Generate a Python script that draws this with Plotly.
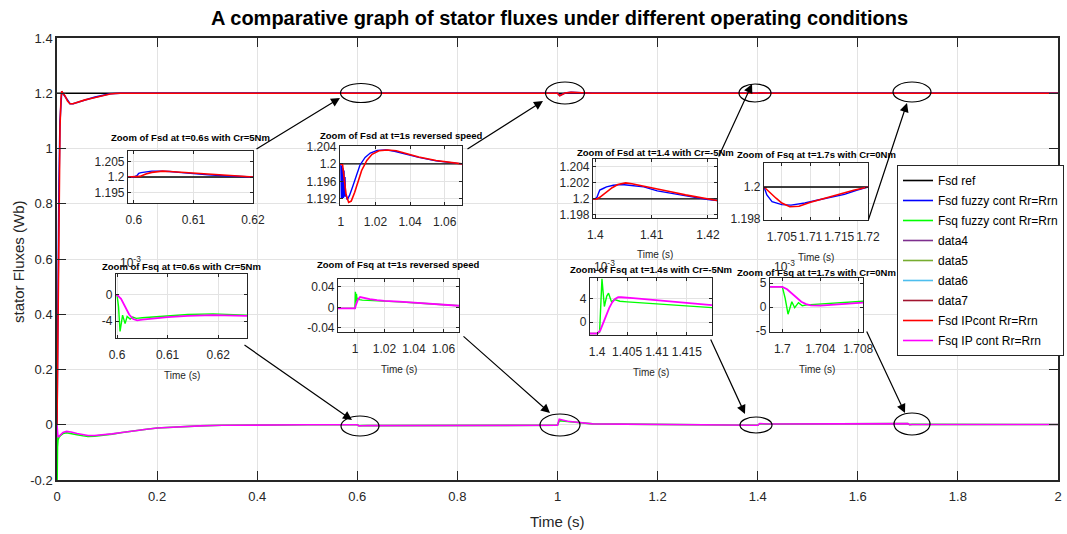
import plotly.graph_objects as go

W, H = 1067, 534
FONT = "Liberation Sans, Arial, sans-serif"
TXT = "#262626"

# ---------------- main plot data ----------------
t_ref = [0, 2]
fsd_ref = [1.2, 1.2]

t_fsd_main = [0, 0.002, 0.004, 0.006, 0.008, 0.0094, 0.012, 0.016, 0.021, 0.026, 0.032, 0.04, 0.046,
              0.056, 0.066, 0.076, 0.086, 0.096, 0.106, 0.116, 0.126, 0.16, 0.6, 0.605, 0.62, 1.0, 1.0045,
              1.015, 1.027, 1.07, 1.4, 1.405, 1.42, 1.7, 1.706, 1.72, 2.0]
fsd_ip_main = [0, 0.45, 0.85, 1.08, 1.18, 1.207, 1.2, 1.19, 1.172, 1.162, 1.162, 1.167, 1.171,
               1.176, 1.180, 1.185, 1.189, 1.193, 1.1975, 1.199, 1.2, 1.2, 1.2, 1.2019, 1.2, 1.2, 1.1912,
               1.2008, 1.2032, 1.2, 1.2, 1.202, 1.2, 1.2, 1.1988, 1.2, 1.2]
fsd_fz_main = [0, 0.5, 0.88, 1.1, 1.19, 1.206, 1.199, 1.188, 1.171, 1.162, 1.162, 1.167, 1.171,
               1.176, 1.181, 1.186, 1.19, 1.194, 1.198, 1.199, 1.2, 1.2, 1.2, 1.2018, 1.2, 1.2, 1.1918,
               1.2012, 1.2032, 1.2, 1.2, 1.2019, 1.2, 1.2, 1.1989, 1.2, 1.2]

t_fsq_main = [0, 0.0003, 0.0006, 0.001, 0.002, 0.004, 0.008, 0.012, 0.019, 0.028, 0.04, 0.052, 0.062,
              0.075, 0.09, 0.11, 0.13, 0.152, 0.175, 0.2, 0.24, 0.285, 0.33, 0.4, 0.5, 0.6, 0.6032,
              0.61, 0.62, 1.0, 1.0035, 1.02, 1.07, 1.4, 1.404, 1.42, 1.7, 1.7034, 1.7085, 2.0]
fsq_ip_main = [0, -0.012, -0.024, -0.036, -0.045, -0.042, -0.034, -0.028, -0.024, -0.026, -0.032, -0.037, -0.039,
               -0.039, -0.037, -0.033, -0.028, -0.022, -0.017, -0.012, -0.008, -0.004, -0.002, -0.0005, 0, 0, -0.0039,
               -0.0035, -0.0032, -0.002, 0.02, 0.0125, 0.003, -0.002, 0.0042, 0.0027, 0.0042, 0.0003, 0.0009, 0.001]
fsq_fz_main = [0, -0.2, -0.12, -0.08, -0.055, -0.045, -0.037, -0.032, -0.029, -0.031, -0.036, -0.04, -0.042,
               -0.041, -0.039, -0.034, -0.028, -0.022, -0.017, -0.012, -0.008, -0.004, -0.002, -0.0005, 0, 0, -0.0036,
               -0.0033, -0.003, -0.002, 0.015, 0.012, 0.003, -0.002, 0.0036, 0.0024, 0.0042, 0.0005, 0.0012, 0.001]

# ---------------- inset data ----------------
# inset 1 : Fsd around t = 0.6 s
i1_t_ip = [0.599, 0.6, 0.6007, 0.601, 0.6015, 0.602, 0.603, 0.604, 0.6048, 0.606, 0.608, 0.61, 0.6125, 0.615, 0.6175, 0.62]
i1_ip = [1.2, 1.2, 1.2, 1.2002, 1.2006, 1.201, 1.2015, 1.2018, 1.2019, 1.2018, 1.2015, 1.2012, 1.2009, 1.2006, 1.2003, 1.2]
i1_t_fz = [0.599, 0.6, 0.6005, 0.6008, 0.6012, 0.602, 0.603, 0.6045, 0.606, 0.608, 0.61, 0.6125, 0.615, 0.6175, 0.62]
i1_fz = [1.2, 1.2, 1.2004, 1.2012, 1.2014, 1.2016, 1.2019, 1.2019, 1.2018, 1.2014, 1.201, 1.2007, 1.2004, 1.2002, 1.2]

# inset 2 : Fsd around t = 1 s
i2_t_ip = [0.9995, 1.0, 1.001, 1.002, 1.003, 1.0045, 1.006, 1.008, 1.01, 1.012, 1.015, 1.018, 1.022, 1.027,
           1.032, 1.038, 1.045, 1.055, 1.07]
i2_ip = [1.2, 1.2, 1.1998, 1.196, 1.193, 1.1912, 1.1915, 1.1935, 1.1962, 1.1985, 1.2008, 1.2022, 1.203, 1.2032,
         1.203, 1.2024, 1.2016, 1.2008, 1.2]
i2_t_fz = [0.9995, 1.0, 1.0003, 1.0006, 1.0009, 1.0012, 1.0015, 1.0018, 1.0021, 1.0024, 1.0027, 1.003, 1.0037,
           1.005, 1.007, 1.009, 1.011, 1.014, 1.017, 1.021, 1.026, 1.031, 1.037, 1.045, 1.055, 1.07]
i2_fz = [1.2, 1.2, 1.192, 1.1995, 1.1922, 1.199, 1.1922, 1.1985, 1.1925, 1.197, 1.1925, 1.193, 1.1918,
         1.1928, 1.195, 1.1975, 1.1997, 1.2015, 1.2025, 1.2031, 1.2032, 1.2029, 1.2023, 1.2015, 1.2007, 1.2]

# inset 3 : Fsd around t = 1.4 s
i3_t_ip = [1.3996, 1.4, 1.4003, 1.4008, 1.4015, 1.402, 1.403, 1.404, 1.4054, 1.4065, 1.408, 1.41, 1.4134, 1.416, 1.42, 1.4216]
i3_ip = [1.2, 1.2, 1.2, 1.2002, 1.2006, 1.2009, 1.2014, 1.2018, 1.202, 1.2019, 1.2017, 1.2014, 1.2009, 1.2005, 1.2, 1.1998]
i3_t_fz = [1.3996, 1.4, 1.4003, 1.4008, 1.4014, 1.402, 1.4032, 1.4047, 1.406, 1.4086, 1.411, 1.4134, 1.4175, 1.42, 1.4216]
i3_fz = [1.2, 1.2, 1.2002, 1.2011, 1.2013, 1.2015, 1.2017, 1.2018, 1.2017, 1.2015, 1.201, 1.2007, 1.2002, 1.1999, 1.1998]

# inset 4 : Fsd around t = 1.7 s
i4_t_ip = [1.7019, 1.703, 1.704, 1.705, 1.7064, 1.708, 1.71, 1.7125, 1.715, 1.7175, 1.72]
i4_ip = [1.2, 1.1996, 1.1993, 1.199, 1.19877, 1.1988, 1.19905, 1.1993, 1.19955, 1.1998, 1.2]
i4_t_fz = [1.7019, 1.7021, 1.7024, 1.7033, 1.705, 1.7066, 1.709, 1.7113, 1.7136, 1.7159, 1.718, 1.72]
i4_fz = [1.2, 1.1998, 1.1995, 1.19908, 1.1989, 1.19887, 1.199, 1.19919, 1.19937, 1.19954, 1.1998, 1.2]

# inset 5 : Fsq around t = 0.6 s (x 1e-3)
i5_t_ip = [0.5998, 0.6, 0.6008, 0.6016, 0.6024, 0.6032, 0.604, 0.605, 0.607, 0.61, 0.614, 0.619, 0.6257]
i5_ip = [0, 0, -0.6, -1.8, -3.0, -3.7, -3.9, -3.8, -3.6, -3.4, -3.2, -3.1, -3.2]
i5_t_fz = [0.5998, 0.6, 0.6003, 0.6006, 0.6011, 0.6016, 0.602, 0.6026, 0.6031, 0.6038, 0.605, 0.607, 0.61, 0.614, 0.619, 0.6257]
i5_fz = [0, 0, -1.8, -5.6, -3.1, -4.4, -3.3, -3.7, -3.4, -3.6, -3.5, -3.4, -3.2, -3.0, -2.9, -3.1]

# inset 6 : Fsq around t = 1 s
i6_t_ip = [0.9885, 1.0, 1.0005, 1.002, 1.0035, 1.006, 1.01, 1.015, 1.02, 1.03, 1.04, 1.05, 1.06, 1.0705]
i6_ip = [-0.002, -0.002, 0.003, 0.015, 0.02, 0.018, 0.016, 0.014, 0.0125, 0.011, 0.009, 0.007, 0.005, 0.003]
i6_t_fz = [0.9885, 1.0, 1.0003, 1.0006, 1.001, 1.0015, 1.002, 1.003, 1.005, 1.01, 1.015, 1.02, 1.03, 1.04, 1.05, 1.06, 1.0705]
i6_fz = [-0.002, -0.002, 0.03, 0.01, 0.026, 0.012, 0.017, 0.015, 0.014, 0.013, 0.0125, 0.012, 0.0105, 0.0088, 0.0069, 0.005, 0.003]

# inset 7 : Fsq around t = 1.4 s (x 1e-3)
i7_t_ip = [1.3988, 1.4, 1.4005, 1.401, 1.4015, 1.402, 1.4025, 1.403, 1.4035, 1.404, 1.406, 1.4077, 1.41, 1.4125, 1.4149, 1.4192]
i7_ip = [-2, -2, -1.5, -0.2, 1.2, 2.4, 3.4, 4.0, 4.3, 4.3, 4.15, 4.0, 3.75, 3.45, 3.25, 2.95]
i7_t_fz = [1.3988, 1.4, 1.4004, 1.4008, 1.4012, 1.4016, 1.4019, 1.4024, 1.4029, 1.4034, 1.4038, 1.405, 1.4077, 1.41, 1.4125, 1.4149, 1.4192]
i7_fz = [-2, -2, -1.8, 7.5, 2.7, 4.5, 5.0, 3.5, 3.9, 3.7, 3.6, 3.5, 3.3, 3.1, 2.9, 2.7, 2.5]

# inset 8 : Fsq around t = 1.7 s (x 1e-3)
i8_t_ip = [1.6987, 1.7, 1.7005, 1.701, 1.7015, 1.702, 1.7025, 1.703, 1.704, 1.705, 1.7065, 1.7085]
i8_ip = [4.2, 4.2, 3.7, 2.8, 1.9, 1.1, 0.6, 0.35, 0.3, 0.45, 0.65, 0.9]
i8_t_fz = [1.6987, 1.7, 1.7003, 1.7006, 1.701, 1.7013, 1.7017, 1.7021, 1.7026, 1.704, 1.706, 1.7085]
i8_fz = [4.2, 4.2, 1.8, -1.5, 1.1, -0.15, 0.9, 0.27, 0.45, 0.6, 0.85, 1.2]

# ---------------- helpers ----------------
def px_x(p):
    return p / W

def px_y(p):
    return 1 - p / H

fig = go.Figure()

C_REF, C_FZD, C_FZQ = "#000000", "#0000ff", "#00ff00"
C_IPD, C_IPQ = "#ff0000", "#ff00ff"
LW = 1.6

def main_trace(x, y, name, col):
    return go.Scatter(x=x, y=y, mode="lines", name=name, legendgroup=name, line=dict(color=col, width=LW))

fig.add_trace(main_trace(t_ref, fsd_ref, "Fsd ref", C_REF))
fig.add_trace(main_trace(t_fsd_main, fsd_fz_main, "Fsd fuzzy cont Rr=Rrn", C_FZD))
fig.add_trace(main_trace(t_fsq_main, fsq_fz_main, "Fsq fuzzy cont Rr=Rrn", C_FZQ))
for nm, col in [("data4", "#7e2f8e"), ("data5", "#77ac30"), ("data6", "#4dbeee"), ("data7", "#a2142f")]:
    fig.add_trace(main_trace([None], [None], nm, col))
fig.add_trace(main_trace(t_fsd_main, fsd_ip_main, "Fsd IPcont Rr=Rrn", C_IPD))
fig.add_trace(main_trace(t_fsq_main, fsq_ip_main, "Fsq IP cont Rr=Rrn", C_IPQ))

insets = [
    dict(box=(128, 253, 151, 203), xr=[0.599, 0.62], yr=[1.1916, 1.2084],
         xt=[0.6, 0.61, 0.62], yt=([1.195, 1.2, 1.205], ["1.195", "1.2", "1.205"]),
         kind="d", fz=(i1_t_fz, i1_fz), ip=(i1_t_ip, i1_ip),
         title="Zoom of Fsd at t=0.6s with Cr=5Nm", ty=138, xlab=False),
    dict(box=(340, 462, 146, 205), xr=[0.9995, 1.07], yr=[1.1906, 1.2041],
         xt=[1, 1.02, 1.04, 1.06], yt=([1.192, 1.196, 1.2, 1.204], ["1.192", "1.196", "1.2", "1.204"]),
         kind="d", fz=(i2_t_fz, i2_fz), ip=(i2_t_ip, i2_ip),
         title="Zoom of Fsd at t=1s reversed speed", ty=136, xlab=False),
    dict(box=(593, 717, 159, 218), xr=[1.3996, 1.4216], yr=[1.1976, 1.205],
         xt=[1.4, 1.41, 1.42], yt=([1.198, 1.2, 1.202, 1.204], ["1.198", "1.2", "1.202", "1.204"]),
         kind="d", fz=(i3_t_fz, i3_fz), ip=(i3_t_ip, i3_ip),
         title="Zoom of Fsd at t=1.4 with Cr=-5Nm", ty=152, xlab=True),
    dict(box=(764, 868, 163, 220), xr=[1.7019, 1.72], yr=[1.19794, 1.2015],
         xt=[1.705, 1.71, 1.715, 1.72], yt=([1.198, 1.2], ["1.198", "1.2"]),
         kind="d", fz=(i4_t_fz, i4_fz), ip=(i4_t_ip, i4_ip),
         title="Zoom of Fsq at t=1.7s with Cr=0Nm", ty=154, xlab=True),
    dict(box=(116, 247, 274, 338), xr=[0.5998, 0.6257], yr=[-6.6, 3.2],
         xt=[0.6, 0.61, 0.62], yt=([-4, 0], ["-4", "0"]),
         kind="q", fz=(i5_t_fz, i5_fz), ip=(i5_t_ip, i5_ip),
         title="Zoom of Fsq at t=0.6s with Cr=5Nm", ty=266, xlab=True, exp=True),
    dict(box=(338, 459, 279, 332), xr=[0.9885, 1.0705], yr=[-0.048, 0.055],
         xt=[1, 1.02, 1.04, 1.06], yt=([-0.04, 0, 0.04], ["-0.04", "0", "0.04"]),
         kind="q", fz=(i6_t_fz, i6_fz), ip=(i6_t_ip, i6_ip),
         title="Zoom of Fsq at t=1s reversed speed", ty=264, xlab=True),
    dict(box=(590, 712, 278, 335), xr=[1.3988, 1.4192], yr=[-2.26, 7.65],
         xt=[1.4, 1.405, 1.41, 1.415], yt=([0, 4], ["0", "4"]),
         kind="q", fz=(i7_t_fz, i7_fz), ip=(i7_t_ip, i7_ip),
         title="Zoom of Fsq at t=1.4s with Cr=-5Nm", ty=269, xlab=True, exp=True),
    dict(box=(770, 863, 278, 332), xr=[1.6987, 1.7085], yr=[-5.2, 6.04],
         xt=[1.7, 1.704, 1.708], yt=([-5, 0, 5], ["-5", "0", "5"]),
         kind="q", fz=(i8_t_fz, i8_fz), ip=(i8_t_ip, i8_ip),
         title="Zoom of Fsq at t=1.7s with Cr=0Nm", ty=272, xlab=True, exp=True),
]

annotations = []
layout_axes = {}
for k, s in enumerate(insets):
    n = k + 2
    xa, ya = f"x{n}", f"y{n}"
    l, r, tp, bt = s["box"]
    if s["kind"] == "d":
        fig.add_trace(go.Scatter(x=s["xr"], y=[1.2, 1.2], mode="lines", line=dict(color=C_REF, width=1.4),
                                 xaxis=xa, yaxis=ya, showlegend=False))
        fig.add_trace(go.Scatter(x=s["fz"][0], y=s["fz"][1], mode="lines", line=dict(color=C_FZD, width=1.4),
                                 xaxis=xa, yaxis=ya, showlegend=False))
        fig.add_trace(go.Scatter(x=s["ip"][0], y=s["ip"][1], mode="lines", line=dict(color=C_IPD, width=1.6),
                                 xaxis=xa, yaxis=ya, showlegend=False))
    else:
        fig.add_trace(go.Scatter(x=s["fz"][0], y=s["fz"][1], mode="lines", line=dict(color=C_FZQ, width=1.4),
                                 xaxis=xa, yaxis=ya, showlegend=False))
        fig.add_trace(go.Scatter(x=s["ip"][0], y=s["ip"][1], mode="lines", line=dict(color=C_IPQ, width=1.8),
                                 xaxis=xa, yaxis=ya, showlegend=False))
    common = dict(showline=True, mirror="ticks", linecolor="#262626", linewidth=1.2, ticks="inside",
                  ticklen=3, tickcolor="#262626", showgrid=True, gridcolor="#e3e3e3", zeroline=False,
                  tickfont=dict(family=FONT, size=12, color=TXT), tickangle=0, fixedrange=True,
                  automargin=False)
    layout_axes[f"xaxis{n}"] = dict(common, domain=[px_x(l), px_x(r)], range=s["xr"], anchor=ya,
                                   tickvals=s["xt"], ticktext=[f"{v:g}" for v in s["xt"]],
                                   ticklabelstandoff=5)
    layout_axes[f"yaxis{n}"] = dict(common, domain=[px_y(bt), px_y(tp)], range=s["yr"], anchor=xa,
                                   tickvals=s["yt"][0], ticktext=s["yt"][1])
    annotations.append(dict(text=f"<b>{s['title']}</b>", x=px_x((l + r) / 2), y=px_y(s["ty"]),
                            xref="paper", yref="paper", showarrow=False, xanchor="center", yanchor="middle",
                            font=dict(family=FONT, size=9.5, color="#000000")))
    if s["xlab"]:
        annotations.append(dict(text="Time (s)", x=px_x((l + r) / 2), y=px_y(bt + 37), xref="paper",
                                yref="paper", showarrow=False, xanchor="center", yanchor="middle",
                                font=dict(family=FONT, size=10, color=TXT)))
    if s.get("exp"):
        annotations.append(dict(text="10<sup>-3</sup>", x=px_x(l + 2), y=px_y(tp - 12), xref="paper",
                                yref="paper", showarrow=False, xanchor="left", yanchor="middle",
                                font=dict(family=FONT, size=12, color=TXT)))

annotations.append(dict(text="<b>A comparative graph of stator fluxes under different operating conditions</b>",
                        x=px_x(559), y=px_y(18), xref="paper", yref="paper", showarrow=False,
                        xanchor="center", yanchor="middle", font=dict(family=FONT, size=20, color="#000000")))
annotations.append(dict(text="Time (s)", x=px_x(557), y=px_y(521), xref="paper", yref="paper", showarrow=False,
                        xanchor="center", yanchor="middle", font=dict(family=FONT, size=15, color=TXT)))
annotations.append(dict(text="stator Fluxes (Wb)", x=px_x(18), y=px_y(262), xref="paper", yref="paper",
                        showarrow=False, textangle=-90, xanchor="center", yanchor="middle",
                        font=dict(family=FONT, size=15, color=TXT)))

arrows = [(255, 150, 340, 98), (466, 150, 543, 101), (718, 158, 752, 84), (868, 221, 907, 103),
          (243, 344, 352, 420), (462, 335, 550, 413), (710, 338, 745, 414), (866, 330, 905, 413)]
for tx, ty, hx, hy in arrows:
    annotations.append(dict(text="", x=px_x(hx), y=px_y(hy), xref="paper", yref="paper", showarrow=True,
                            ax=tx - hx, ay=ty - hy, axref="pixel", ayref="pixel", arrowhead=2, arrowsize=1.5,
                            arrowwidth=1.2, arrowcolor="#000000", standoff=0))

ellipses = [(361, 93, 41, 19), (565, 93, 39, 22), (755, 93, 32, 18), (912, 92, 38, 20),
            (360, 426, 38, 20), (560, 425, 40, 22), (756, 425, 32, 16), (912, 424, 36, 22)]
shapes = []
for cx, cy, w, h in ellipses:
    shapes.append(dict(type="circle", xref="paper", yref="paper", x0=px_x(cx - w / 2), x1=px_x(cx + w / 2),
                       y0=px_y(cy + h / 2), y1=px_y(cy - h / 2), line=dict(color="#000000", width=1.2)))

main_ticks = dict(showline=True, mirror="ticks", linecolor="#262626", linewidth=1.5, ticks="inside",
                  ticklen=9, tickcolor="#262626", showgrid=True, gridcolor="#e3e3e3", zeroline=False,
                  tickfont=dict(family=FONT, size=13, color=TXT), tickangle=0, fixedrange=True,
                  automargin=False)
xt_main = [0, 0.2, 0.4, 0.6, 0.8, 1.0, 1.2, 1.4, 1.6, 1.8, 2.0]
yt_main = [-0.2, 0, 0.2, 0.4, 0.6, 0.8, 1.0, 1.2, 1.4]

fig.update_layout(
    width=W, height=H, margin=dict(l=0, r=0, t=0, b=0, autoexpand=False), autosize=False,
    paper_bgcolor="white", plot_bgcolor="white",
    xaxis=dict(main_ticks, domain=[px_x(57), px_x(1058)], range=[0, 2], tickvals=xt_main,
               ticktext=[f"{v:g}" for v in xt_main], ticklabelstandoff=4),
    yaxis=dict(main_ticks, domain=[px_y(480), px_y(38)], range=[-0.2, 1.4], tickvals=yt_main,
               ticktext=[f"{v:g}" for v in yt_main]),
    showlegend=True,
    legend=dict(x=px_x(897), y=px_y(165), xanchor="left", yanchor="top", bgcolor="white",
                bordercolor="#262626", borderwidth=1, font=dict(family=FONT, size=12, color="#000000"),
                traceorder="grouped", tracegroupgap=1),
    annotations=annotations, shapes=shapes,
    **layout_axes,
)

fig.write_html("out.html", include_plotlyjs=True, config={"displayModeBar": False})
